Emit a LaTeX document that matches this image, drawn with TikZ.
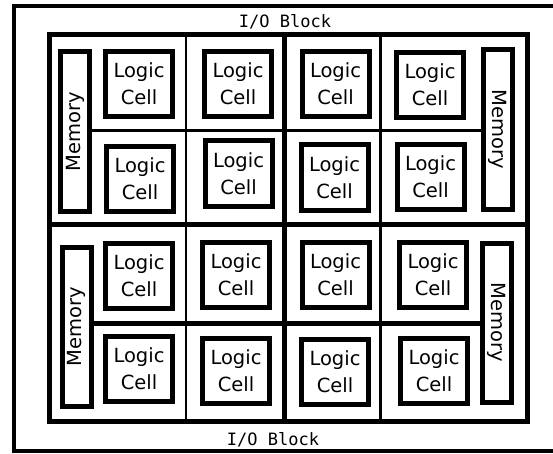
\documentclass[tikz,border=0pt]{standalone}
\usepackage{fontspec}
\setmainfont{DejaVu Sans}
\newfontfamily\iofont{DejaVu Sans Mono}
\usepackage{tikz}
\tikzset{
  logiccell/.style={draw=black,fill=white,line width=5pt,minimum width=67pt,
    minimum height=65pt,inner sep=0pt,align=center,
    font=\fontsize{19.5}{27}\selectfont},
  memory/.style={draw=black,fill=white,line width=5pt,minimum width=159pt,
    minimum height=29pt,inner sep=0pt,font=\fontsize{19.5}{22}\selectfont},
  iolabel/.style={inner sep=0pt,font=\iofont\fontsize{17}{20}\selectfont},
  frame/.style={line width=4pt,black},
  fabric/.style={line width=5pt,black},
  split/.style={line width=5pt,black},
  thinsplit/.style={line width=2.5pt,black}
}

\begin{document}
\begin{tikzpicture}[x=1pt,y=-1pt]
  \useasboundingbox (0,0) rectangle (553,454);
  % outer I/O ring (right side runs off the page)
  \draw[frame] (562,6.5) -- (14,6.5) -- (14,451) -- (562,451);
  \draw[fabric] (49,34.5) rectangle (527,421);
  % quadrant dividers
  \draw[split] (284.5,34.5) -- (284.5,421);
  \draw[split] (49,224.5) -- (527,224.5);
  \draw[thinsplit] (186,34.5) -- (186,224.5);
  \draw[thinsplit] (380.5,34.5) -- (380.5,224.5);
  \draw[thinsplit] (186,224.5) -- (186,421);
  \draw[thinsplit] (380.5,224.5) -- (380.5,421);
  \draw[thinsplit] (92,130.5) -- (482,130.5);
  \draw[split] (92,323.5) -- (482,323.5);
  \node[iolabel] (iotop) at (285,22) {I/O Block};
  \node[iolabel] (iobot) at (273,440) {I/O Block};
  \node[memory,rotate=90] (mem1) at (75,131.5) {Memory};
  \node[memory,rotate=-90] (mem2) at (497.5,129.5) {Memory};
  \node[memory,rotate=90] (mem3) at (76.5,327) {Memory};
  \node[memory,rotate=-90] (mem4) at (497,322.5) {Memory};
  \node[logiccell] (c11) at (139,84) {Logic\\Cell};
  \node[logiccell] (c12) at (238,84) {Logic\\Cell};
  \node[logiccell] (c13) at (335.5,84) {Logic\\Cell};
  \node[logiccell] (c14) at (430,85) {Logic\\Cell};
  \node[logiccell] (c21) at (140,179) {Logic\\Cell};
  \node[logiccell] (c22) at (238.5,173.5) {Logic\\Cell};
  \node[logiccell] (c23) at (334.5,177.5) {Logic\\Cell};
  \node[logiccell] (c24) at (430.5,177) {Logic\\Cell};
  \node[logiccell] (c31) at (139,276) {Logic\\Cell};
  \node[logiccell] (c32) at (236,274.5) {Logic\\Cell};
  \node[logiccell] (c33) at (335.5,274.5) {Logic\\Cell};
  \node[logiccell] (c34) at (433,274.5) {Logic\\Cell};
  \node[logiccell] (c41) at (139,369) {Logic\\Cell};
  \node[logiccell] (c42) at (236,371) {Logic\\Cell};
  \node[logiccell] (c43) at (335,371.5) {Logic\\Cell};
  \node[logiccell] (c44) at (434,370.5) {Logic\\Cell};
\end{tikzpicture}
\end{document}
